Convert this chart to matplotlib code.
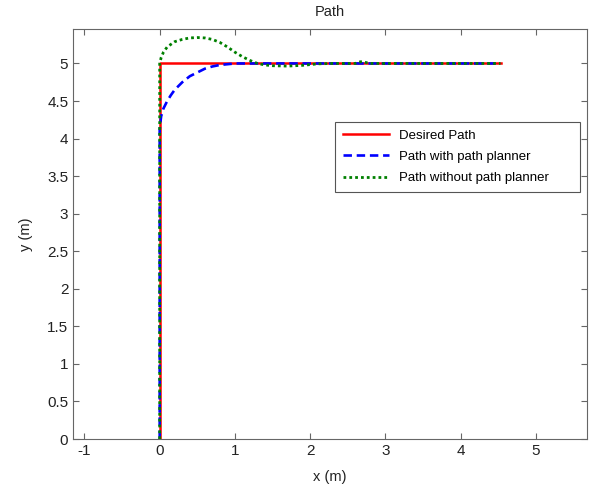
import matplotlib.pyplot as plt
import numpy as np

plt.rcParams['font.family'] = ['Liberation Sans', 'DejaVu Sans']
plt.rcParams['axes.unicode_minus'] = False

# desired path: straight up then right
desired_x = [0, 0, 4.53]
desired_y = [0, 5, 5]

# path with planner
planner_x = [0, 0, 0.01, 0.02, 0.05, 0.1, 0.15, 0.2, 0.3, 0.4, 0.5, 0.6, 0.7, 0.8, 0.9, 1.0, 4.53]
planner_y = [0, 4.12, 4.22, 4.3, 4.4, 4.5, 4.58, 4.65, 4.75, 4.83, 4.88, 4.93, 4.96, 4.98, 4.99, 5.0, 5.0]

# path without planner
noplan_x = [0, 0, 0.02, 0.05, 0.1, 0.2, 0.3, 0.4, 0.5, 0.6, 0.7, 0.8, 0.9, 1.0, 1.1, 1.2,
            1.3, 1.4, 1.5, 1.7, 1.9, 2.1, 2.3, 2.6, 2.65, 2.7, 2.75, 2.8, 4.53]
noplan_y = [0, 5, 5.08, 5.15, 5.22, 5.29, 5.32, 5.34, 5.345, 5.34, 5.32, 5.28, 5.22, 5.15, 5.09, 5.04,
            5.0, 4.98, 4.97, 4.965, 4.975, 4.995, 5.0, 5.0, 5.02, 5.025, 5.01, 5.0, 5.0]

fig = plt.figure(figsize=(5.9, 4.9), dpi=100)
ax = fig.add_axes([0.124, 0.104, 0.871, 0.837])

ax.plot(desired_x, desired_y, color='red', lw=1.8, label='Desired Path')
ax.plot(planner_x, planner_y, color='blue', lw=1.9, ls=(0, (3.2, 1.8)), label='Path with path planner')
ax.plot(noplan_x, noplan_y, color='green', lw=2.0, ls=(0, (1, 1.1)), label='Path without path planner')

ax.set_xlim(-1.15, 5.68)
ax.set_ylim(0, 5.46)
ax.set_xticks(np.arange(-1, 6, 1))
ax.set_yticks(np.arange(0, 5.01, 0.5))
ax.set_yticklabels(['0', '0.5', '1', '1.5', '2', '2.5', '3', '3.5', '4', '4.5', '5'])

ax.tick_params(direction='in', top=True, right=True, length=4, labelsize=11,
               color='#666666', labelcolor='#222222')
for s in ax.spines.values():
    s.set_color('#666666')

ax.set_title('Path', fontsize=10.5, color='#222222', pad=9)
ax.set_xlabel('x (m)', fontsize=10.5, color='#222222', labelpad=9)
ax.set_ylabel('y (m)', fontsize=10.5, color='#222222', labelpad=10)

leg = ax.legend(loc='upper left', bbox_to_anchor=(0.51, 0.598, 0.476, 0.175), mode='expand',
                fontsize=9.5, fancybox=False, framealpha=1, edgecolor='#555555',
                handlelength=3.5, handletextpad=0.75, borderpad=0.55, labelspacing=0.7,
                borderaxespad=0)
leg.get_frame().set_linewidth(0.8)

fig.savefig('out.png', dpi=100)
